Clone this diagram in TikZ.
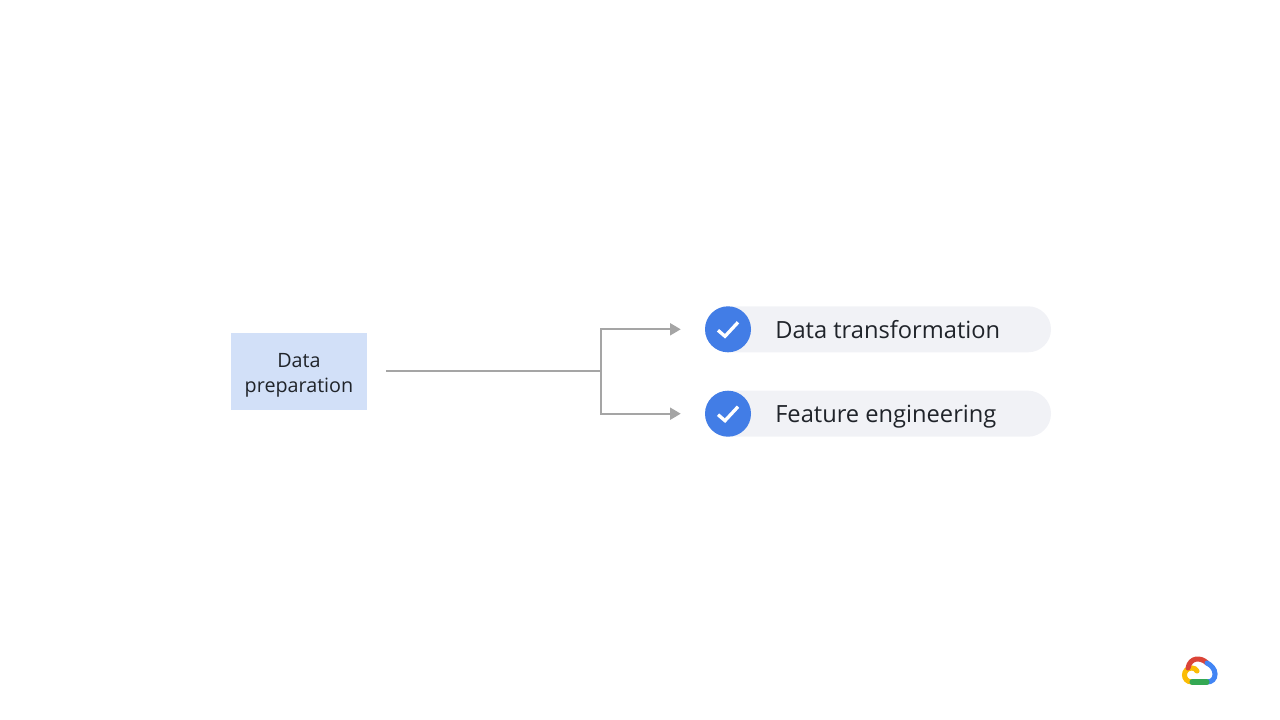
\documentclass[tikz,border=0pt]{standalone}
\usepackage{fontspec}
\setmainfont{Open Sans}
\usepackage{xcolor}
\usetikzlibrary{arrows.meta}
\definecolor{boxblue}{RGB}{210,224,248}
\definecolor{pillgrey}{RGB}{241,242,246}
\definecolor{checkblue}{RGB}{66,125,230}
\definecolor{flowgrey}{RGB}{165,165,165}
\definecolor{inkdark}{RGB}{32,36,42}
\definecolor{logored}{RGB}{219,68,55}
\definecolor{logoblue}{RGB}{66,133,244}
\definecolor{logogreen}{RGB}{52,168,83}
\definecolor{logoyellow}{RGB}{251,188,5}
\tikzset{
	prepbox/.style={fill=boxblue, minimum width=102pt, minimum height=57.75pt, align=center, text=inkdark, font=\fontsize{14.8}{18.75}\selectfont, inner sep=0pt},
	pill/.style={fill=pillgrey, rounded corners=17.2pt, minimum width=259.5pt, minimum height=34.5pt, inner sep=0pt},
	checkdot/.style={circle, fill=checkblue, minimum size=34.5pt, inner sep=0pt},
	pilltext/.style={anchor=base west, inner sep=0pt, text=inkdark, font=\fontsize{17.75}{20}\selectfont},
	flowline/.style={draw=flowgrey, line width=1.5pt},
	flowarrow/.style={flowline, -{Triangle[length=8pt,width=9pt]}, shorten >=18pt},
	tick/.style={draw=white, line width=2.5pt},
	logostroke/.style={line width=3.8pt, line cap=round}
}
\begin{document}
\begin{tikzpicture}[x=0.75pt,y=-0.75pt]
	\useasboundingbox (0,0) rectangle (1280,720);

	\node[prepbox] (prep) at (299,371.5) {\rule{0pt}{16.5pt}Data\\preparation};
	\coordinate (split) at (601,371);

	\node[pill] (pillA) at (878,329.3) {};
	\node[pill] (pillB) at (878,413.7) {};
	\node[checkdot] (checkA) at (728,329.3) {};
	\node[checkdot] (checkB) at (728,413.7) {};
	\node[pilltext] (textA) at (775,338.5) {Data transformation};
	\node[pilltext] (textB) at (775,422.5) {Feature engineering};

	\draw[flowline, shorten <=14.25pt] (prep.east |- split) -- (split);
	\draw[flowarrow] (split) |- (checkA);
	\draw[flowarrow] (split) |- (checkB);

	% check marks
	\foreach \c in {checkA,checkB}
		\draw[tick] ([shift={(-10,1)}]\c.center) -- ([shift={(-3,7)}]\c.center) -- ([shift={(10,-7)}]\c.center);

	% cloud logo
	\coordinate (logoA) at (1192,682);
	\coordinate (logoB) at (1207,682);
	\coordinate (logoC) at (1207,663);
	\coordinate (logoD) at (1188,668);
	\coordinate (logoE) at (1197,671);
	\draw[logostroke, logoyellow] (logoA) .. controls (1182,682) and (1182,668) .. (1192,668) .. controls (1194,668) and (1196,669) .. (logoE);
	\draw[logostroke, logored] (logoD) .. controls (1190,657) and (1201,657) .. (logoC);
	\draw[logostroke, logoblue] (logoC) .. controls (1211,665) and (1215,669) .. (1215,674) .. controls (1215,679) and (1212,682) .. (logoB);
	\draw[logostroke, logogreen] (logoA) -- (logoB);
\end{tikzpicture}
\end{document}
